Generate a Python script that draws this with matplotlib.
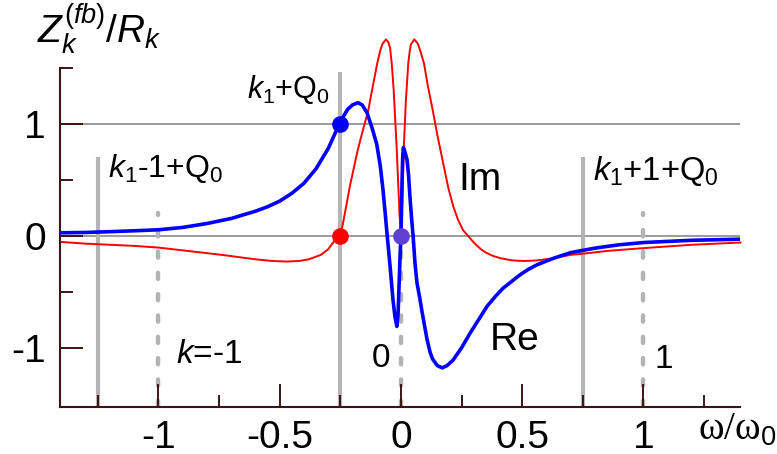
import numpy as np
import matplotlib
matplotlib.use('Agg')
import matplotlib.pyplot as plt
from matplotlib.ticker import FixedLocator

plt.rcParams['font.family'] = ['Liberation Sans', 'DejaVu Sans']
plt.rcParams['mathtext.fontset'] = 'custom'
plt.rcParams['mathtext.rm'] = 'Liberation Sans'
plt.rcParams['mathtext.it'] = 'Liberation Sans:italic'

# Re part (blue)
RE_X = [-1.40, -1.30, -1.20, -1.10, -1.00, -0.90, -0.80, -0.70, -0.60, -0.55,
        -0.50, -0.45, -0.40, -0.35, -0.30, -0.25, -0.22, -0.20, -0.177, -0.16,
        -0.14, -0.12, -0.10, -0.085, -0.074, -0.065, -0.058, -0.045, -0.033,
        -0.025, -0.017, -0.012, -0.008, -0.004, 0.0, 0.004, 0.007, 0.010,
        0.015, 0.025, 0.031, 0.037, 0.044, 0.050, 0.058, 0.066, 0.077, 0.087,
        0.097, 0.107, 0.120, 0.130, 0.150, 0.170, 0.190, 0.215, 0.250, 0.285,
        0.320, 0.355, 0.390, 0.420, 0.455, 0.490, 0.525, 0.560, 0.600, 0.630,
        0.700, 0.750, 0.800, 0.900, 1.000, 1.100, 1.200, 1.300, 1.400]
RE_Y = [0.027, 0.030, 0.037, 0.045, 0.054, 0.075, 0.110, 0.155, 0.220, 0.260,
        0.310, 0.380, 0.470, 0.600, 0.780, 1.020, 1.130, 1.170, 1.190, 1.170,
        1.100, 0.970, 0.820, 0.620, 0.410, 0.200, 0.030, -0.270, -0.570,
        -0.720, -0.810, -0.700, -0.450, -0.200, 0.000, 0.450, 0.700, 0.790,
        0.760, 0.680, 0.550, 0.350, 0.150, 0.000, -0.250, -0.420, -0.550, -0.680,
        -0.800, -0.920, -1.040, -1.100, -1.160, -1.180, -1.160, -1.110, -1.000, -0.870,
        -0.750, -0.630, -0.540, -0.470, -0.410, -0.350, -0.300, -0.260, -0.225, -0.200,
        -0.150, -0.130, -0.110, -0.080, -0.060, -0.050, -0.040, -0.035, -0.030]

# Im part (red)
IM_X = [-1.40, -1.30, -1.20, -1.10, -1.00, -0.90, -0.80, -0.74, -0.67, -0.60,
        -0.53, -0.47, -0.42, -0.38, -0.355, -0.33, -0.30, -0.28, -0.26, -0.25,
        -0.24, -0.21, -0.18, -0.16, -0.135, -0.115, -0.098, -0.085, -0.075,
        -0.062, -0.052, -0.045, -0.038, -0.030, -0.024, -0.018, -0.012, -0.006,
        0.0, 0.004, 0.008, 0.012, 0.020, 0.030, 0.036, 0.041, 0.055, 0.065,
        0.071, 0.083, 0.095, 0.110, 0.133, 0.150, 0.174, 0.195, 0.216, 0.236,
        0.256, 0.277, 0.300, 0.330, 0.350, 0.380, 0.410, 0.460, 0.510, 0.560,
        0.630, 0.700, 0.750, 0.850, 1.000, 1.100, 1.200, 1.300, 1.400]
IM_Y = [-0.055, -0.070, -0.080, -0.090, -0.105, -0.130, -0.155, -0.170, -0.190, -0.210,
        -0.225, -0.230, -0.225, -0.210, -0.190, -0.170, -0.120, -0.060, -0.010, 0.000,
        0.100, 0.450, 0.750, 0.920, 1.120, 1.350, 1.540, 1.660, 1.720,
        1.755, 1.730, 1.680, 1.540, 1.300, 1.050, 0.800, 0.500, 0.200,
        0.000, 0.200, 0.500, 0.800, 1.200, 1.540, 1.650, 1.710, 1.755, 1.730,
        1.710, 1.630, 1.540, 1.350, 1.100, 0.900, 0.650, 0.430, 0.260, 0.140,
        0.050, 0.000, -0.060, -0.120, -0.150, -0.180, -0.200, -0.220, -0.225, -0.220,
        -0.200, -0.170, -0.160, -0.135, -0.110, -0.095, -0.080, -0.070, -0.060]

# marked points
DOT_X = [-0.25, -0.25, 0.0]
DOT_Y = [1.0, 0.0, 0.0]
DOT_COLORS = ['#0000ff', '#ff0000', '#6040d0']

# vertical guide lines
SOLID_X = [-1.25, -0.25, 0.75]
SOLID_TOP = [0.70, 1.46, 0.70]
DASHED_X = [-1.0, 0.0, 1.0]
DASHED_TOP = [0.2, 0.2, 0.2]

HLINES = [0.0, 1.0]

X_MAJOR = [-1, -0.5, 0, 0.5, 1]
X_MAJOR_LABELS = ['-1', '-0.5', '0', '0.5', '1']
X_MINOR = [-1.25, -0.75, -0.25, 0.25, 0.75, 1.25]
Y_MAJOR = [-1, 0, 1]
Y_MAJOR_LABELS = ['-1', '0', '1']
Y_MINOR = [-0.5, 0.5, 1.5]

XLIM = (-1.406, 1.398)
YLIM = (-1.53, 1.8)
YBOTTOM = -1.53
SPINE_TOP = 1.5

AXIS_COLOR = '#3c1414'


def main():
    fig = plt.figure(figsize=(7.77, 4.54), dpi=100)
    ax = fig.add_axes([0.0772, 0.1035, 0.8752, 0.8207])

    for y in HLINES:
        ax.axhline(y, color='#808080', lw=1.1, zorder=1)

    for x, top in zip(SOLID_X, SOLID_TOP):
        ax.plot([x, x], [YBOTTOM, top], color='#b4b4b4', lw=3.0,
                solid_capstyle='butt', zorder=1)
    for x, top in zip(DASHED_X, DASHED_TOP):
        ax.plot([x, x], [YBOTTOM, top], color='#b4b4b4', lw=3.2,
                dash_capstyle='round', dashes=(1.4, 3.4), zorder=1)

    ax.plot(IM_X, IM_Y, color='#ff0000', lw=1.4, zorder=2, clip_on=False)
    ax.plot(RE_X, RE_Y, color='#0000ff', lw=2.6, zorder=3)

    for x, y, c in zip(DOT_X, DOT_Y, DOT_COLORS):
        ax.plot(x, y, 'o', color=c, ms=12, mec='none', zorder=4)

    ax.set_xlim(*XLIM)
    ax.set_ylim(*YLIM)

    for side in ['top', 'right']:
        ax.spines[side].set_visible(False)
    for side in ['left', 'bottom']:
        ax.spines[side].set_color(AXIS_COLOR)
        ax.spines[side].set_linewidth(1.5)
    ax.spines['left'].set_bounds(YBOTTOM, SPINE_TOP)

    ax.set_xticks(X_MAJOR)
    ax.set_xticklabels(X_MAJOR_LABELS)
    ax.xaxis.set_minor_locator(FixedLocator(X_MINOR))
    ax.set_yticks(Y_MAJOR)
    ax.set_yticklabels(Y_MAJOR_LABELS)
    ax.yaxis.set_minor_locator(FixedLocator(Y_MINOR))

    ax.tick_params(which='both', direction='in', color=AXIS_COLOR, width=1.4,
                   labelsize=28)
    ax.tick_params(which='major', length=16.5)
    ax.tick_params(which='minor', length=9)
    ax.tick_params(axis='x', pad=9)
    ax.tick_params(axis='y', pad=10)

    ax.text(-1.50, 1.72, r'$Z_k^{(fb)}/R_k$', fontsize=28, ha='left',
            va='baseline')
    ax.text(-0.635, 1.232, r'$k_1$+Q$_0$', fontsize=22, ha='left', va='baseline')
    ax.text(-1.208, 0.53, r'$k_1$-1+Q$_0$', fontsize=23, ha='left', va='baseline')
    ax.text(0.792, 0.50, r'$k_1$+1+Q$_0$', fontsize=23.5, ha='left', va='baseline')
    ax.text(0.235, 0.41, 'Im', fontsize=28, ha='left', va='baseline')
    ax.text(0.367, -1.018, 'Re', fontsize=28, ha='left', va='baseline')
    ax.text(-0.928, -1.134, r'$k$=-1', fontsize=24, ha='left', va='baseline')
    ax.text(-0.12, -1.17, '0', fontsize=24, ha='left', va='baseline')
    ax.text(1.047, -1.18, '1', fontsize=24, ha='left', va='baseline')
    ax.text(1.225, -1.82, 'ω/ω$_0$', fontsize=28, ha='left', va='baseline',
            family='Liberation Serif')

    fig.savefig('out.png', dpi=100)


if __name__ == '__main__':
    main()
